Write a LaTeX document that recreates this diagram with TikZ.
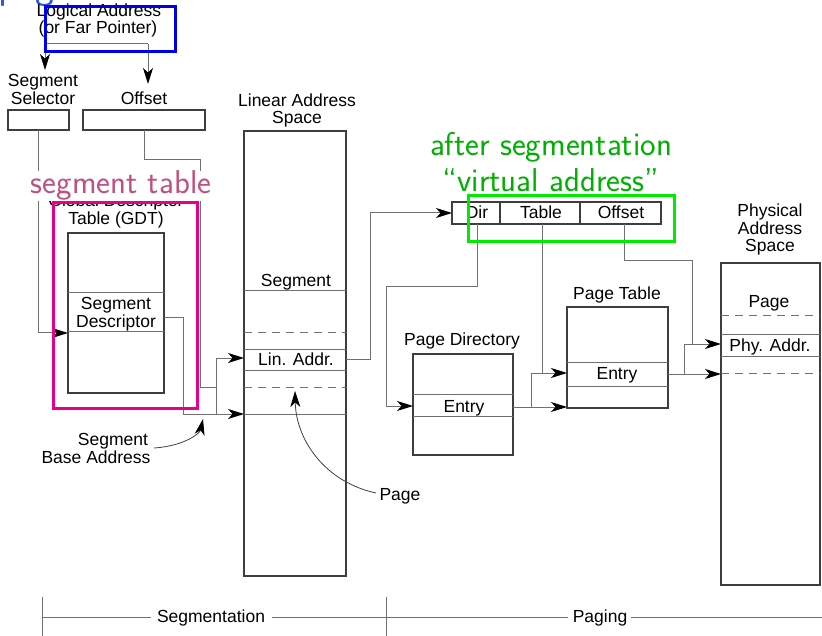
\documentclass[tikz,border=0pt]{standalone}
\usepackage{fontspec}
\setmainfont{Liberation Sans}
\usetikzlibrary{arrows.meta}

\definecolor{lineg}{RGB}{112,112,112}
\definecolor{boxg}{RGB}{62,62,62}
\definecolor{segpink}{RGB}{232,0,140}
\definecolor{segtext}{RGB}{192,80,130}
\definecolor{vagreen}{RGB}{0,235,0}
\definecolor{vatext}{RGB}{0,176,0}
\definecolor{lablue}{RGB}{0,0,240}
\definecolor{titleblue}{RGB}{40,90,230}

\begin{document}
\begin{tikzpicture}[x=1pt,y=-1pt,
  font=\fontsize{17.5}{17}\selectfont,
  lbl/.style={anchor=base,inner sep=0pt,outer sep=0pt},
  mem/.style={draw=boxg,line width=1.3pt,anchor=north west,inner sep=0pt,outer sep=0pt},
  conn/.style={draw=lineg,line width=1pt},
  tip/.style={-{Stealth[length=16pt,width=10pt,inset=4.5pt,color=black]}},
  div/.style={draw=lineg,line width=1pt},
  ddiv/.style={div,dash pattern=on 8pt off 6pt},
  hilite/.style={line width=3pt},
  note/.style={font=\sffamily\fontsize{33}{36}\selectfont,anchor=base,inner sep=0pt,outer sep=0pt}
]
\useasboundingbox (0,0) rectangle (822,636);

% ---------- title fragment ----------
\node[font=\sffamily\fontsize{40}{40}\selectfont,text=titleblue,anchor=base west,inner sep=0pt] (title) at (-2,-1) {page};

% ---------- memory boxes ----------
\node[mem,minimum width=61pt,minimum height=20pt] (sel) at (8,110) {};
\node[mem,minimum width=122pt,minimum height=20pt] (off) at (83,110) {};
\node[mem,minimum width=96pt,minimum height=160pt] (gdt) at (68,233) {};
\node[mem,minimum width=102pt,minimum height=445pt] (lin) at (244,131) {};
\node[mem,minimum width=209pt,minimum height=22pt] (va) at (452,202) {};
\node[mem,minimum width=100pt,minimum height=101pt] (pd) at (413,354) {};
\node[mem,minimum width=101pt,minimum height=101pt] (pt) at (567,307) {};
\node[mem,minimum width=99pt,minimum height=322pt] (phys) at (721,263) {};

% rows inside the tables
\foreach \r in {293,332} \draw[div] (gdt.west |- 0,\r) -- (gdt.east |- 0,\r);
\foreach \r in {291,349,370,414} \draw[div] (lin.west |- 0,\r) -- (lin.east |- 0,\r);
\foreach \r in {333,387} \draw[ddiv] (lin.west |- 0,\r) -- (lin.east |- 0,\r);
\foreach \r in {394,416} \draw[div] (pd.west |- 0,\r) -- (pd.east |- 0,\r);
\foreach \r in {362,386} \draw[div] (pt.west |- 0,\r) -- (pt.east |- 0,\r);
\foreach \r in {335,356} \draw[div] (phys.west |- 0,\r) -- (phys.east |- 0,\r);
\foreach \r in {316,373} \draw[ddiv] (phys.west |- 0,\r) -- (phys.east |- 0,\r);
\foreach \c in {500,580} \draw[draw=boxg,line width=1.3pt] (va.north -| \c,0) -- (va.south -| \c,0);

% ---------- labels ----------
\node[lbl] (la1) at (99,17) {Logical Address};
\node[lbl] (la2) at (98,34) {(or Far Pointer)};
\node[lbl] (ss1) at (43,87) {Segment};
\node[lbl] (ss2) at (43,105) {Selector};
\node[lbl] (offl) at (144,105) {Offset};
\node[lbl] (las1) at (297,107) {Linear Address};
\node[lbl] (las2) at (297,124) {Space};
\node[lbl] (gdt1) at (116,207) {Global Descriptor};
\node[lbl] (gdt2) at (116,225) {Table (GDT)};
\node[lbl] (sd1) at (116,310) {Segment};
\node[lbl] (sd2) at (116,327) {Descriptor};
\node[lbl] (lseg) at (296,287) {Segment};
\node[lbl] (laddr) at (296,366) {Lin. Addr.};
\node[lbl] (sba1) at (113,445) {Segment};
\node[lbl] (sba2) at (96,463) {Base Address};
\node[lbl] (pagel) at (400,500) {Page};
\node[lbl] (dirl) at (477,219) {Dir};
\node[lbl] (tabl) at (541,219) {Table};
\node[lbl] (offv) at (621,219) {Offset};
\node[lbl] (pdt) at (462,345) {Page Directory};
\node[lbl] (pde) at (464,412) {Entry};
\node[lbl] (ptt) at (617,300) {Page Table};
\node[lbl] (pte) at (617,379) {Entry};
\node[lbl] (pas1) at (770,217) {Physical};
\node[lbl] (pas2) at (770,235) {Address};
\node[lbl] (pas3) at (770,252) {Space};
\node[lbl] (ppage) at (769,308) {Page};
\node[lbl] (paddr) at (770,352) {Phy. Addr.};

% ---------- segmentation connectors ----------
\coordinate (lsplit) at (148,44);
\coordinate (selIn) at (45,70);
\coordinate (offIn) at (148,84);
\draw[conn,tip] (lsplit) -| (selIn);
\draw[conn,tip] (lsplit) -- (offIn);

\coordinate (gdtIn) at (68,333);
\draw[conn,tip] (sel.south) |- (gdtIn);

\coordinate (offOut) at (144,130);
\coordinate (sumA) at (216,387);
\draw[conn] (offOut) -- (144,160) -| (200,387) -- (sumA);

\coordinate (descOut) at (164,318);
\coordinate (baseLine) at (183,414);
\draw[conn] (descOut) -| (baseLine);
\draw[conn,tip] (baseLine) -- (lin.west |- 0,414);
\draw[conn] (216,414) -- (216,358);
\draw[conn,tip] (216,358) -- (lin.west |- 0,358);

% ---------- paging connectors ----------
\draw[conn,tip] (lin.east |- 0,359) -- (370,359) |- (va.west);

\coordinate (dirOut) at (477,224);
\draw[conn,tip] (dirOut) -- (477,287) -| (386,406) -- (pd.west |- 0,406);

\coordinate (tabOut) at (542,224);
\draw[conn] (tabOut) -- (542,373);
\draw[conn,tip] (531,373) -- (pt.west |- 0,373);
\draw[conn] (531,373) -- (531,407);
\draw[conn,tip] (pd.east |- 0,407) -- (pt.west |- 0,407);

\coordinate (offvOut) at (624,224);
\draw[conn] (offvOut) -- (624,261) -| (692,344);
\draw[conn,tip] (684,344) -- (phys.west |- 0,344);
\draw[conn] (684,344) -- (684,374);
\draw[conn,tip] (pt.east |- 0,374) -- (phys.west |- 0,374);

% ---------- pointer callouts ----------
\coordinate (sbaFrom) at (154,448);
\draw[conn,draw=black!75,line width=0.8pt,tip] (sbaFrom) .. controls (185,446) and (200,433) .. (203,419);
\coordinate (pageFrom) at (376,493);
\draw[conn,draw=black!75,line width=0.8pt,tip] (pageFrom) .. controls (325,482) and (296,440) .. (295,391);

% ---------- phase ruler ----------
\node[lbl] (segt) at (211,622) {Segmentation};
\node[lbl] (pagt) at (600,622) {Paging};
\draw[conn] (42,597) -- (42,636);
\draw[conn] (386,597) -- (386,636);
\draw[conn] (42,617) -- ([xshift=-6pt]segt.west |- 0,617);
\draw[conn] ([xshift=7pt]segt.east |- 0,617) -- ([xshift=-5pt]pagt.west |- 0,617);
\draw[conn] ([xshift=4pt]pagt.east |- 0,617) -- (822,617);

% ---------- annotations ----------
\node[note,text=segtext,fill=white] (segtab) at (121,194) {segment table};
\node[note,text=vatext] (after) at (551,156) {after segmentation};
\node[note,text=vatext] (virt) at (551,192) {``virtual address''};

\draw[hilite,segpink] (53,203) rectangle (197,408);
\draw[hilite,vagreen] (468,196) rectangle (674,242);
\draw[hilite,lablue] (45,7) rectangle (175,52);
\end{tikzpicture}
\end{document}
